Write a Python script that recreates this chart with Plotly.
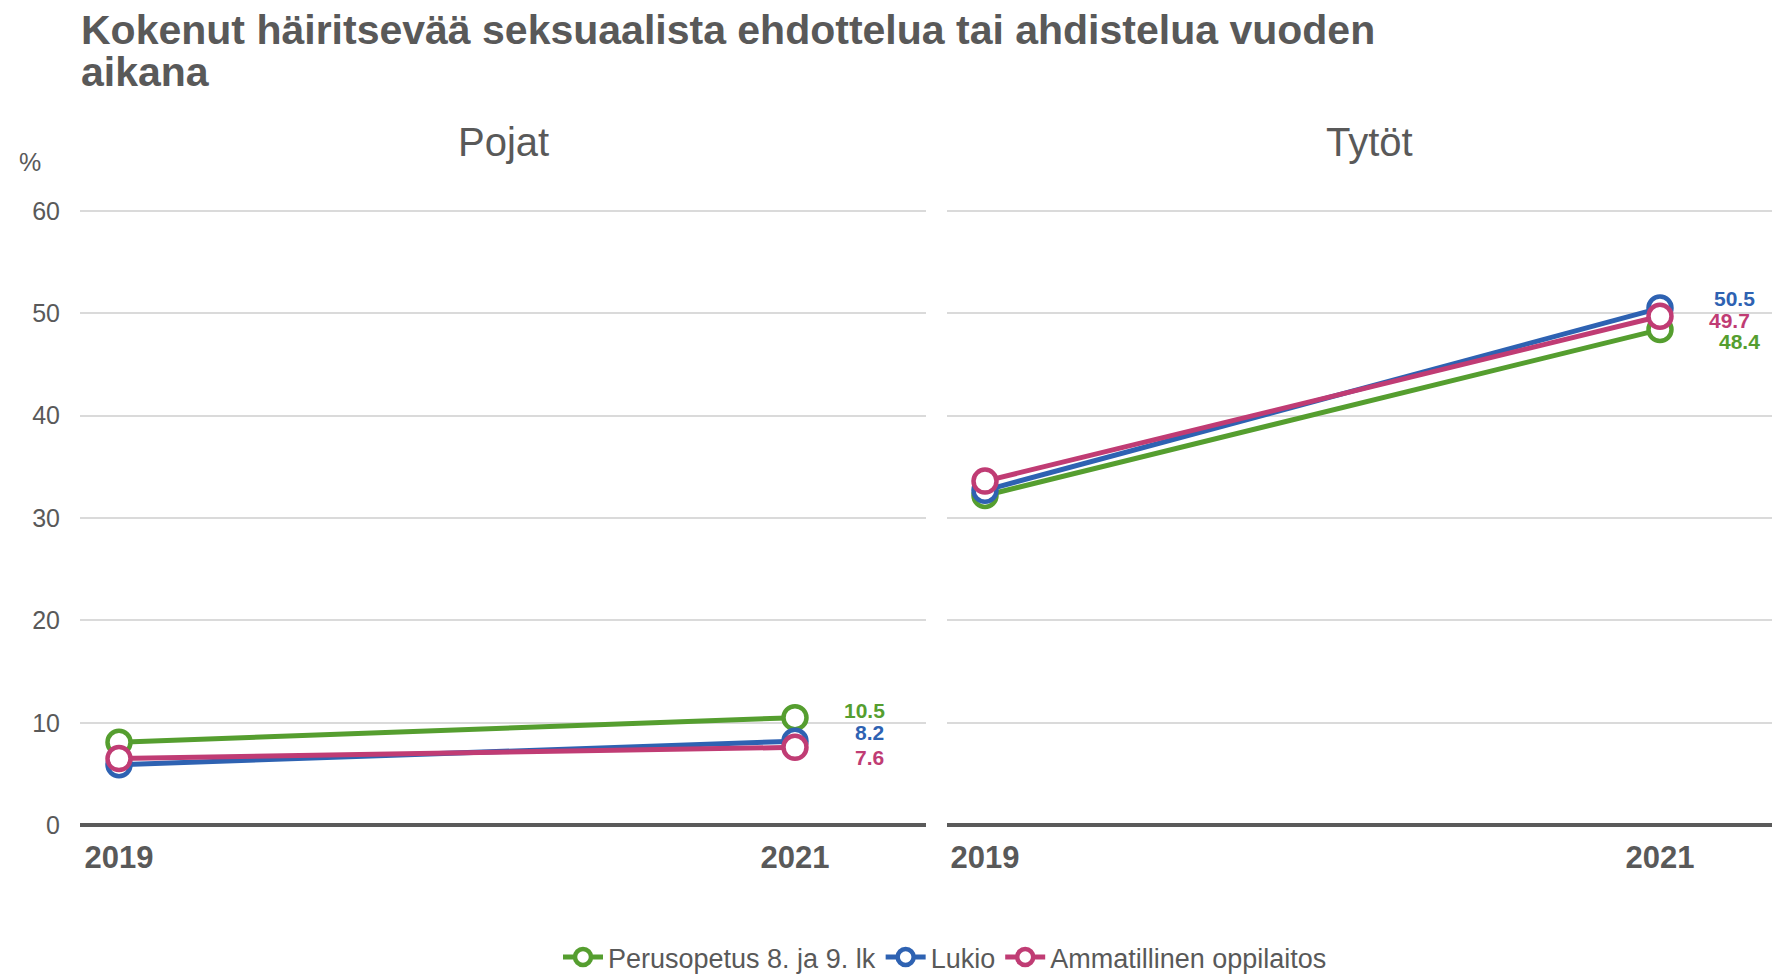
import plotly.graph_objects as go

years = [2019, 2021]
series_names = ["Perusopetus 8. ja 9. lk", "Lukio", "Ammatillinen oppilaitos"]
colors = ["#559E2F", "#2E62B2", "#C03C74"]

pojat_perus = [8.1, 10.5]
pojat_lukio = [5.9, 8.2]
pojat_amm = [6.5, 7.6]

tytot_perus = [32.2, 48.4]
tytot_lukio = [32.7, 50.5]
tytot_amm = [33.6, 49.7]

panel_titles = ["Pojat", "Tytöt"]
y_ticks = [0, 10, 20, 30, 40, 50, 60]
title_lines = ["Kokenut häiritsevää seksuaalista ehdottelua tai ahdistelua vuoden", "aikana"]

pojat = [pojat_perus, pojat_lukio, pojat_amm]
tytot = [tytot_perus, tytot_lukio, tytot_amm]

GREY = "#595959"
FONT = "Liberation Sans, Arial, sans-serif"
W, H = 1780, 974
OFF = 8  # page body margin compensation (pixels)


def px(x):
    return (x - OFF) / W


def py(y):
    return 1 - (y - OFF) / H


dom1 = [px(80), px(926)]
dom2 = [px(947), px(1780)]
ydom = [py(826), py(211 - 0.5 * 10.25)]
yrange = [0, 60.5]
xrange1 = [2018.8846, 2021.3876]
xrange2 = [2018.8874, 2021.3556]

fig = go.Figure()

for panel, data in enumerate([pojat, tytot]):
    xa = "x" if panel == 0 else "x2"
    ya = "y" if panel == 0 else "y2"
    for i, vals in enumerate(data):
        fig.add_trace(go.Scatter(
            x=years, y=vals, xaxis=xa, yaxis=ya,
            mode="lines+markers",
            name=series_names[i],
            legendgroup=series_names[i],
            showlegend=(panel == 0),
            line=dict(color=colors[i], width=5),
            marker=dict(symbol="circle", size=23, color="white",
                        line=dict(color=colors[i], width=4.5)),
            cliponaxis=False,
        ))

annotations = []
# end-value labels (pixel offsets are layout only)
shifts_by_panel = {
    0: [(69.5, 7), (74.5, 9), (75, -10)],
    1: [(79.5, -11.5), (75, 9.5), (70, -4)],
}
for panel, data in enumerate([pojat, tytot]):
    xa = "x" if panel == 0 else "x2"
    ya = "y" if panel == 0 else "y2"
    for i, vals in enumerate(data):
        dx, dy = shifts_by_panel[panel][i]
        annotations.append(dict(
            x=years[-1], y=vals[-1], xref=xa, yref=ya,
            text=f"<b>{vals[-1]:.1f}</b>", showarrow=False,
            xanchor="center", yanchor="middle",
            xshift=dx, yshift=dy,
            font=dict(color=colors[i], size=21, family=FONT),
        ))

# panel titles
for k, cx in enumerate([503, 1369]):
    annotations.append(dict(x=px(cx), y=py(142), xref="paper", yref="paper",
                            text=panel_titles[k], showarrow=False,
                            xanchor="center", yanchor="middle",
                            font=dict(size=40, color=GREY, family=FONT)))
# unit label
annotations.append(dict(x=px(29.5), y=py(162), xref="paper", yref="paper",
                        text="%", showarrow=False, xanchor="center", yanchor="middle",
                        font=dict(size=25, color=GREY, family=FONT)))
# title (two lines)
for k, cy in enumerate([30, 72]):
    annotations.append(dict(x=px(79.5), y=py(cy), xref="paper", yref="paper",
                            text=f"<b>{title_lines[k]}</b>", showarrow=False, align="left",
                            xanchor="left", yanchor="middle", borderpad=0,
                            font=dict(size=41, color=GREY, family=FONT)))

common_x = dict(tickvals=years, ticktext=[f"<b>{y}</b>" for y in years],
                showgrid=False, zeroline=False, showline=False, ticks="",
                ticklabelstandoff=11, automargin=False,
                tickfont=dict(size=31, color=GREY, family=FONT), fixedrange=True)
common_y = dict(range=yrange, tickvals=y_ticks, showgrid=True, gridcolor="#DADADA",
                gridwidth=1.5, zeroline=True, zerolinecolor="#5A5A5A", zerolinewidth=4,
                showline=False, ticks="", domain=ydom, automargin=False,
                tickfont=dict(size=25, color=GREY, family=FONT))

fig.update_layout(
    width=W, height=H,
    plot_bgcolor="white", paper_bgcolor="white",
    margin=dict(l=0, r=0, t=0, b=0),
    xaxis=dict(domain=dom1, anchor="y", range=xrange1, **common_x),
    xaxis2=dict(domain=dom2, anchor="y2", range=xrange2, **common_x),
    yaxis=dict(anchor="x", showticklabels=True, ticklabelstandoff=19, **common_y),
    yaxis2=dict(anchor="x2", showticklabels=False, **common_y),
    legend=dict(orientation="h", x=px(945), xanchor="center", y=py(958), yanchor="middle",
                font=dict(size=27, color=GREY, family=FONT), itemwidth=40,
                tracegroupgap=0),
    annotations=annotations,
    showlegend=True,
)

fig.write_html("out.html")
